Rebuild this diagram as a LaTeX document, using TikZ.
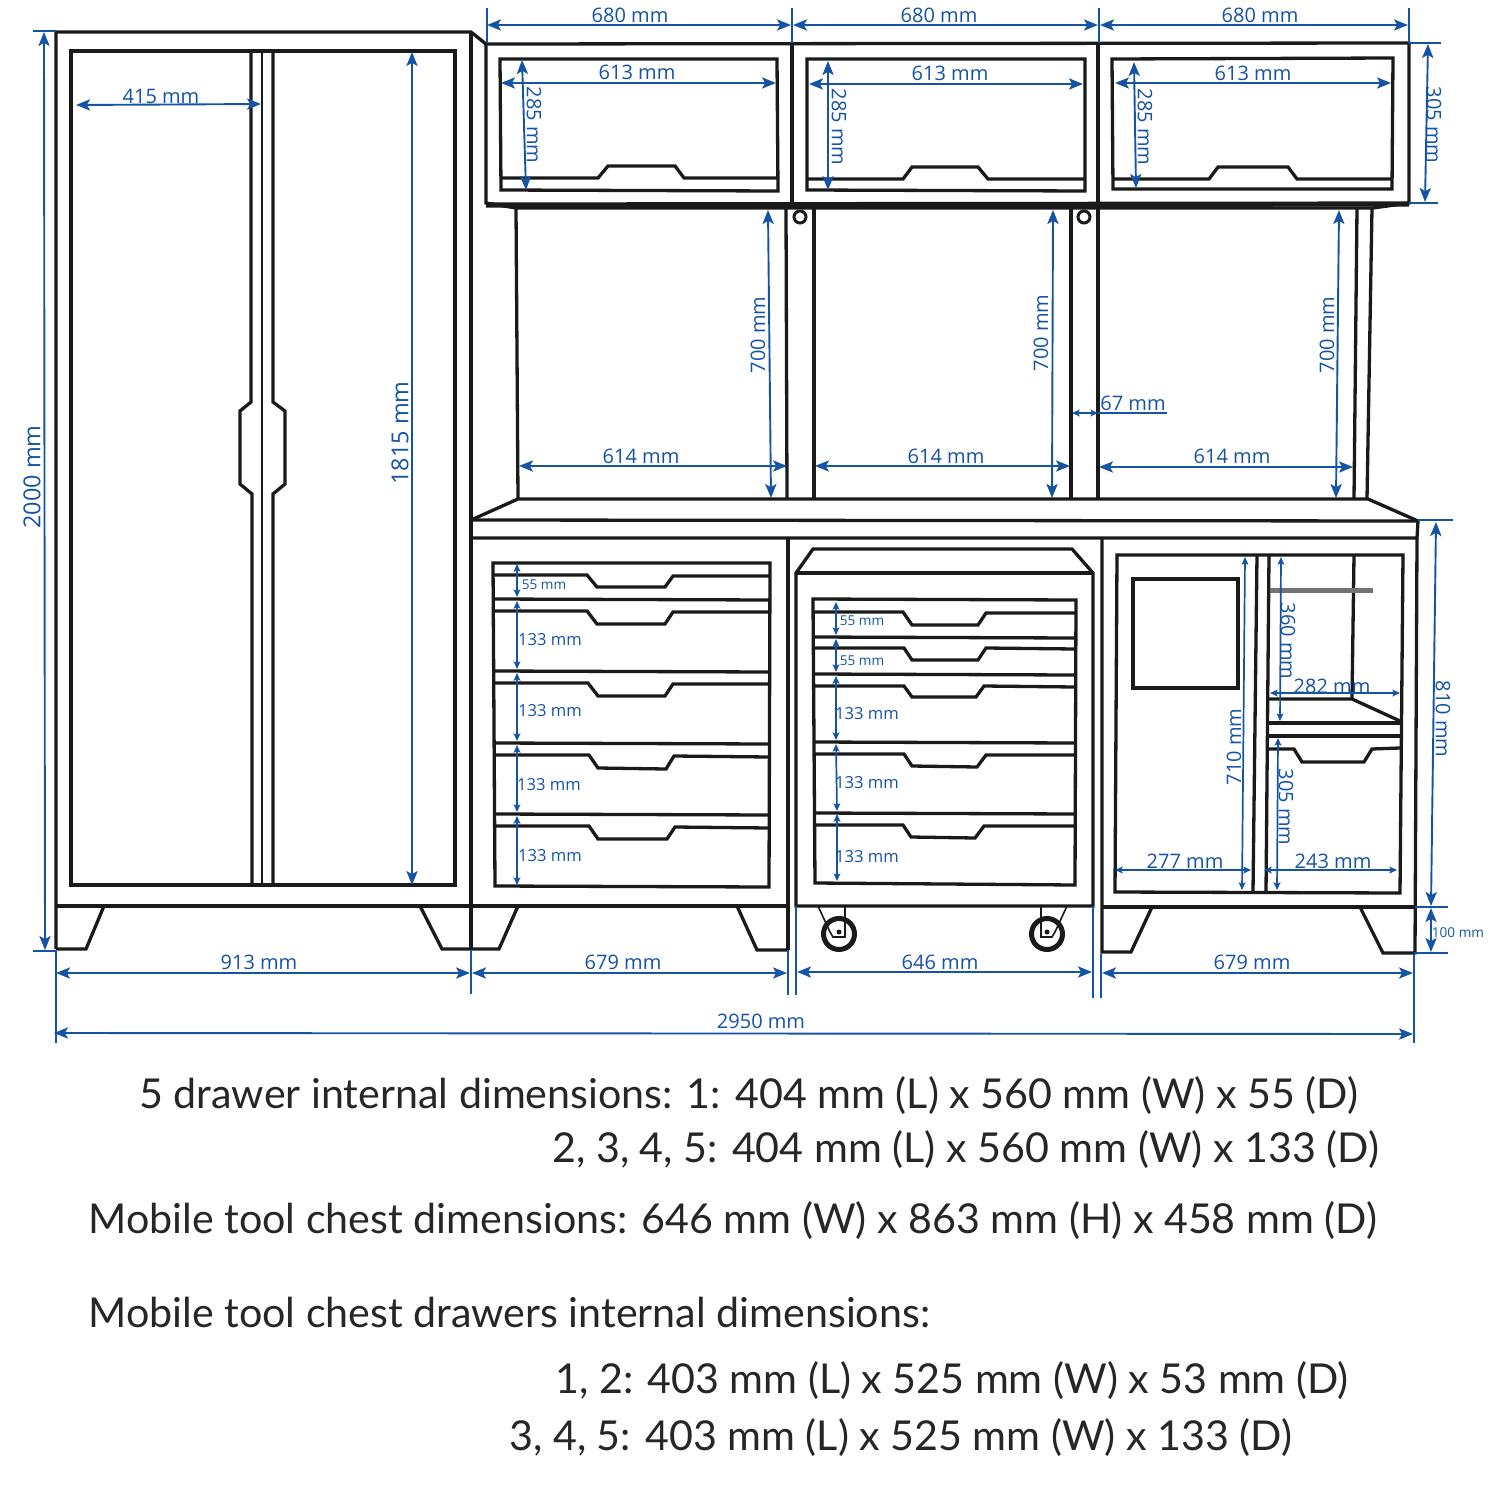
\documentclass[tikz,border=0pt]{standalone}
\usepackage{fontspec}
\setmainfont{Open Sans}
\newfontfamily\notefont{Lato}
\usetikzlibrary{arrows.meta}
\definecolor{dimblue}{HTML}{1553A5}
\definecolor{linkblack}{HTML}{1A1A1A}

\begin{document}
\begin{tikzpicture}[
  x=0.5pt, y=-0.5pt,
  part/.style={draw=linkblack, line width=1.65pt, line join=miter},
  thinpart/.style={draw=linkblack, line width=0.8pt},
  arrow/.style={draw=dimblue, line width=0.95pt, {Stealth[length=7pt,width=5.6pt,inset=1.6pt]}-{Stealth[length=7pt,width=5.6pt,inset=1.6pt]}},
  smallarrow/.style={draw=dimblue, line width=0.85pt, {Stealth[length=3.8pt,width=3.4pt,inset=0.8pt]}-{Stealth[length=3.8pt,width=3.4pt,inset=0.8pt]}},
  extline/.style={draw=dimblue, line width=0.8pt},
  dimtext/.style={text=dimblue, inner sep=0pt, font=\fontsize{10}{12}\selectfont},
  bigtext/.style={dimtext, font=\fontsize{11.7}{14}\selectfont},
  midtext/.style={dimtext, yshift=-0.5pt, font=\fontsize{8.3}{10}\selectfont},
  tinytext/.style={dimtext, yshift=-0.5pt, font=\fontsize{6.8}{8}\selectfont},
  note/.style={anchor=base west, inner sep=0pt, text=black!85, font=\notefont\fontsize{20.6}{24}\selectfont}
]
\useasboundingbox (0,0) rectangle (1500,1488);

% Tall cabinet
\draw[part] (56,949) -- (56,32) -- (471,32) -- (486,44);
\draw[part] (471,32) -- (471,949);
\draw[part] (71,51) rectangle (455,885);
\draw[part] (56,906) -- (471,906);
\draw[part] (251,51) -- (251,402) -- (240,411) -- (240,484) -- (252,494) -- (252,885);
\draw[part] (273,51) -- (273,402) -- (285,411) -- (285,484) -- (273,494) -- (273,885);
\draw[thinpart] (262,51) -- (262,885);
\draw[part] (56,949) -- (86,949) -- (104,906);
\draw[part] (420,906) -- (442,949) -- (499,949) -- (518,906);

% Wall boxes
\draw[part] (486,44) -- (1409,43) -- (1409,203) -- (1373,208) -- (516,208) -- (486,203) -- cycle;
\draw[draw=linkblack, line width=2.6pt] (486,205) -- (1409,204);
\draw[part] (792,44) -- (792,205);
\draw[part] (1098,44) -- (1098,205);
\draw[part] (500,59) -- (777,59) -- (778,191) -- (501,190) -- cycle;
\draw[part] (501,178) -- (598,178) -- (608,166) -- (675,166) -- (684,178) -- (777,178);
\draw[part] (807,59) -- (1085,59) -- (1085,191) -- (807,190) -- cycle;
\draw[part] (807,179) -- (903,179) -- (912,167) -- (978,167) -- (988,179) -- (1085,179);
\draw[part] (1112,59) -- (1393,58) -- (1392,189) -- (1113,189) -- cycle;
\draw[part] (1113,179) -- (1209,179) -- (1218,167) -- (1288,167) -- (1297,179) -- (1392,179);

% Posts
\draw[part] (516,208) -- (518,499);
\draw[part] (786,208) -- (787,499);
\draw[part] (814,208) -- (814,499);
\draw[part] (1071,208) -- (1071,499);
\draw[part] (1098,208) -- (1098,499);
\draw[part] (1357,208) -- (1354,499);
\draw[part] (1372,208) -- (1367,499);
\draw[draw=linkblack, line width=1.5pt] (800,217) circle (6);
\draw[draw=linkblack, line width=1.5pt] (1084,217) circle (6);

% Counter
\draw[part] (471,520) -- (518,499) -- (1368,499) -- (1418,521) -- (1417,538) -- (471,538);
\draw[part] (471,520) -- (1418,521);

% Drawer cabinet
\draw[part] (788,538) -- (788,950);
\draw[part] (471,906) -- (788,906);
\draw[part] (737,906) -- (757,950) -- (788,950);
\draw[part] (493,563) -- (770,563) -- (769,887) -- (495,886) -- cycle;
\draw[part] (494,599) -- (769,600);
\draw[part] (494,671) -- (769,672);
\draw[part] (495,743) -- (769,744);
\draw[part] (495,814) -- (769,815);
\draw[part] (494,575) -- (587,575) -- (597,587) -- (665,587) -- (673,576) -- (769,576);
\draw[part] (494,611) -- (587,611) -- (597,624) -- (665,624) -- (673,612) -- (769,612);
\draw[part] (495,683) -- (588,683) -- (598,696) -- (665,696) -- (673,684) -- (769,684);
\draw[part] (495,755) -- (589,755) -- (598,768) -- (666,769) -- (674,756) -- (769,757);
\draw[part] (496,826) -- (589,826) -- (598,839) -- (667,839) -- (675,827) -- (769,828);

% Mobile chest
\draw[part] (796,906) -- (796,573) -- (813,549) -- (1072,549) -- (1093,573) -- (1093,906) -- cycle;
\draw[part] (796,573) -- (1093,573);
\draw[part] (813,599) -- (1076,600) -- (1075,885) -- (815,883) -- cycle;
\draw[part] (814,637) -- (1075,638);
\draw[part] (814,674) -- (1075,675);
\draw[part] (815,742) -- (1075,743);
\draw[part] (815,813) -- (1075,814);
\draw[part] (814,612) -- (903,612) -- (912,625) -- (978,625) -- (986,613) -- (1075,613);
\draw[part] (814,648) -- (904,648) -- (912,660) -- (978,660) -- (986,648) -- (1075,649);
\draw[part] (815,686) -- (904,686) -- (912,697) -- (976,697) -- (984,686) -- (1075,687);
\draw[part] (815,754) -- (904,754) -- (912,766) -- (977,767) -- (986,755) -- (1075,755);
\draw[part] (815,825) -- (903,825) -- (911,837) -- (975,838) -- (984,826) -- (1075,826);

% Wheels
\draw[thinpart] (818,906) -- (830,932) -- (833,937) -- (845,937) -- (845,906);
\draw[thinpart] (1067,906) -- (1055,932) -- (1052,937) -- (1041,937) -- (1041,906);
\draw[draw=linkblack, line width=2.5pt] (839,934) circle (15.5);
\draw[draw=linkblack, line width=2.5pt] (1047,934) circle (15.5);
\fill[linkblack] (839,932) circle (2.5);
\fill[linkblack] (1047,932) circle (2.5);

% Open cabinet
\draw[part] (1102,538) -- (1102,952) -- (1131,952) -- (1152,907);
\draw[part] (1417,538) -- (1415,953) -- (1383,953) -- (1360,907);
\draw[part] (1102,907) -- (1415,907);
\draw[part] (1117,555) -- (1403,555) -- (1400,893) -- (1115,892) -- cycle;
\draw[part] (1133,579) rectangle (1238,688);
\draw[part] (1257,555) -- (1253,892);
\draw[part] (1269,555) -- (1266,892);
\draw[part] (1354,555) -- (1352,699);
\draw[part] (1269,699) -- (1352,699) -- (1400,721);
\draw[part] (1268,723) -- (1400,723);
\draw[part] (1268,736) -- (1400,736);
\draw[part] (1267,749) -- (1294,749) -- (1302,762) -- (1364,762) -- (1372,749) -- (1400,748);
\draw[draw=black!55, line width=2.5pt] (1270,590) -- (1373,590);

% Extension lines
\draw[extline] (487,8) -- (487,43);
\draw[extline] (792,8) -- (792,43);
\draw[extline] (1099,8) -- (1099,43);
\draw[extline] (1409,8) -- (1409,43);
\draw[extline] (1409,43) -- (1441,43);
\draw[extline] (1409,203) -- (1438,203);
\draw[extline] (33,31) -- (56,31);
\draw[extline] (33,951) -- (56,951);
\draw[extline] (1418,520) -- (1453,520);
\draw[extline] (1415,907) -- (1448,907);
\draw[extline] (1414,953) -- (1448,953);
\draw[extline] (56,951) -- (56,1043);
\draw[extline] (471,950) -- (471,994);
\draw[extline] (788,950) -- (788,995);
\draw[extline] (796,906) -- (796,995);
\draw[extline] (1093,906) -- (1093,998);
\draw[extline] (1101,954) -- (1101,998);
\draw[extline] (1414,954) -- (1414,1043);
\draw[extline] (1098,413) -- (1167,413);

% Arrows
\draw[arrow] (487,25) -- (791,25);
\draw[arrow] (793,25) -- (1098,25);
\draw[arrow] (1100,25) -- (1408,25);
\draw[arrow] (501,83) -- (776,83);
\draw[arrow] (809,84) -- (1083,84);
\draw[arrow] (1115,83) -- (1391,83);
\draw[arrow] (522,60) -- (526,190);
\draw[arrow] (828,61) -- (828,190);
\draw[arrow] (1134,62) -- (1136,188);
\draw[arrow] (1428,44) -- (1425,202);
\draw[arrow] (76,105) -- (261,104);
\draw[arrow] (44,32) -- (45,950);
\draw[arrow] (412,52) -- (412,885);
\draw[arrow] (768,210) -- (771,498);
\draw[arrow] (1053,210) -- (1052,498);
\draw[arrow] (1339,210) -- (1336,498);
\draw[arrow] (519,466) -- (787,466);
\draw[arrow] (815,466) -- (1070,466);
\draw[arrow] (1099,467) -- (1353,467);
\draw[arrow] (1436,522) -- (1431,906);
\draw[arrow] (1431,908) -- (1431,952);
\draw[arrow] (56,973) -- (470,973);
\draw[arrow] (472,973) -- (787,973);
\draw[arrow] (797,972) -- (1092,972);
\draw[arrow] (1102,973) -- (1413,973);
\draw[arrow] (54,1033) -- (1413,1034);
\draw[smallarrow] (1072,413) -- (1098,413);
\draw[smallarrow] (517,564) -- (517,597);
\draw[smallarrow] (517,601) -- (517,669);
\draw[smallarrow] (517,673) -- (517,741);
\draw[smallarrow] (517,745) -- (517,812);
\draw[smallarrow] (517,816) -- (517,885);
\draw[smallarrow] (836,602) -- (836,635);
\draw[smallarrow] (836,639) -- (836,672);
\draw[smallarrow] (836,676) -- (836,740);
\draw[smallarrow] (836,744) -- (837,811);
\draw[smallarrow] (837,814) -- (837,881);
\draw[smallarrow] (1245,557) -- (1242,890);
\draw[smallarrow] (1281,557) -- (1280,721);
\draw[smallarrow] (1278,738) -- (1277,890);
\draw[smallarrow] (1270,693) -- (1400,693);
\draw[smallarrow] (1115,870) -- (1251,870);
\draw[smallarrow] (1264,870) -- (1397,870);

% Labels
\node[dimtext] (top_a) at (630,15) {680 mm};
\node[dimtext] (top_b) at (939,15) {680 mm};
\node[dimtext] (top_c) at (1260,15) {680 mm};
\node[dimtext] (box_a) at (637,72) {613 mm};
\node[dimtext] (box_b) at (950,73) {613 mm};
\node[dimtext] (box_c) at (1253,73) {613 mm};
\node[dimtext, rotate=-90] (high_a) at (534,125) {285 mm};
\node[dimtext, rotate=-90] (high_b) at (839,127) {285 mm};
\node[dimtext, rotate=-90] (high_c) at (1145,127) {285 mm};
\node[dimtext, rotate=-90] (box_high) at (1434,125) {305 mm};
\node[dimtext] (door_wide) at (161,96) {415 mm};
\node[bigtext, rotate=90] (total_high) at (32,477) {2000 mm};
\node[bigtext, rotate=90] (door_high) at (400,433) {1815 mm};
\node[dimtext, rotate=90] (gap_a) at (758,335) {700 mm};
\node[dimtext, rotate=90] (gap_b) at (1041,333) {700 mm};
\node[dimtext, rotate=90] (gap_c) at (1327,335) {700 mm};
\node[dimtext] (back_a) at (641,456) {614 mm};
\node[dimtext] (back_b) at (946,456) {614 mm};
\node[dimtext] (back_c) at (1232,456) {614 mm};
\node[dimtext] (post_wide) at (1133,403) {67 mm};
\node[dimtext, rotate=-90] (bench_high) at (1443,719) {810 mm};
\node[tinytext] (leg_high) at (1458,932) {100 mm};
\node[dimtext] (foot_a) at (259,962) {913 mm};
\node[dimtext] (foot_b) at (623,962) {679 mm};
\node[dimtext] (foot_c) at (940,962) {646 mm};
\node[dimtext] (foot_d) at (1252,962) {679 mm};
\node[dimtext] (total_wide) at (761,1021) {2950 mm};

\node[tinytext] (draw_a) at (544,584) {55 mm};
\node[midtext] (draw_b) at (550,639) {133 mm};
\node[midtext] (draw_c) at (550,710) {133 mm};
\node[midtext] (draw_d) at (549,784) {133 mm};
\node[midtext] (draw_e) at (550,855) {133 mm};
\node[tinytext] (chest_a) at (862,620) {55 mm};
\node[tinytext] (chest_b) at (862,660) {55 mm};
\node[midtext] (chest_c) at (867,713) {133 mm};
\node[midtext] (chest_d) at (867,782) {133 mm};
\node[midtext] (chest_e) at (867,856) {133 mm};

\node[dimtext, rotate=90] (open_high) at (1234,747) {710 mm};
\node[dimtext, rotate=-90] (shelf_high) at (1288,641) {360 mm};
\node[dimtext, rotate=-90] (low_high) at (1286,807) {305 mm};
\node[dimtext] (shelf_wide) at (1332,686) {282 mm};
\node[dimtext] (open_wide) at (1185,861) {277 mm};
\node[dimtext] (low_wide) at (1333,861) {243 mm};

% Notes
\node[note] (note_a) at (139,1108) {5 drawer internal dimensions: 1: 404 mm (L) x 560 mm (W) x 55 (D)};
\node[note] (note_b) at (552,1162) {2, 3, 4, 5: 404 mm (L) x 560 mm (W) x 133 (D)};
\node[note] (note_c) at (88,1233) {Mobile tool chest dimensions: 646 mm (W) x 863 mm (H) x 458 mm (D)};
\node[note] (note_d) at (88,1327) {Mobile tool chest drawers internal dimensions:};
\node[note] (note_e) at (555,1393) {1, 2: 403 mm (L) x 525 mm (W) x 53 mm (D)};
\node[note] (note_f) at (509,1450) {3, 4, 5: 403 mm (L) x 525 mm (W) x 133 (D)};

\end{tikzpicture}
\end{document}
